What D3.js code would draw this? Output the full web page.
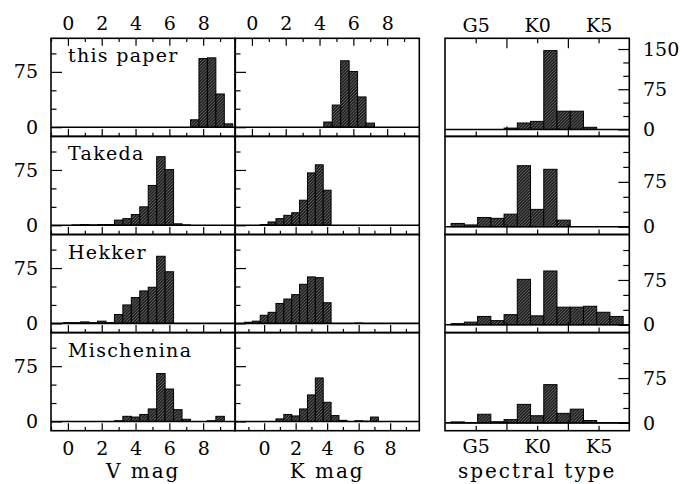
<!DOCTYPE html>
<html>
<head>
<meta charset="utf-8">
<script src="https://cdn.jsdelivr.net/npm/d3@7"></script>
<style>
  body { margin: 0; background: #fff; }
  svg text { font-family: "DejaVu Serif", serif; fill: #000; }
</style>
</head>
<body>
<div id="chart"></div>
<script>
// one row of panels per sample
const surveys = ["this paper", "Takeda", "Hekker", "Mischenina"];

// magnitude bin centres, bins are 0.5 mag wide
const magBins = [-1.5, -1, -0.5, 0, 0.5, 1, 1.5, 2, 2.5, 3, 3.5, 4, 4.5,
                 5, 5.5, 6, 6.5, 7, 7.5, 8, 8.5, 9, 9.5];

// V magnitude counts
const vThisPaper  = [0, 0, 0, 0, 0, 0, 0, 0, 0, 0, 0, 0, 0, 0, 0, 0, 0, 0, 10, 93, 94, 45, 4.5];
const vTakeda     = [0, 0, 0, 0, 0.5, 1, 0.5, 1, 1, 7, 9, 14.5, 25, 54, 93, 75.5, 2, 0.5, 0, 0, 0, 0, 0];
const vHekker     = [0, 0, 0, 1, 1, 2, 1, 3, 1, 12, 25, 35, 44, 49, 91, 70, 0, 0, 0, 0, 0, 0, 0];
const vMischenina = [0, 0, 0, 0, 0, 0, 0, 0, 0, 1, 7, 6, 9.5, 17, 65, 44, 16, 3, 0, 0, 1, 7, 0];

// K magnitude counts
const kThisPaper  = [0, 0, 0, 0, 0, 0, 0, 0, 0, 0, 0, 0, 7, 30, 90, 75.5, 41, 5.5, 0, 0, 0, 0, 0];
const kTakeda     = [0, 0, 0, 1, 4.5, 9, 13.5, 17, 34, 71, 82, 47.5, 0, 0, 0, 0, 0, 0, 0, 0, 0, 0, 0];
const kHekker     = [0, 1.5, 3, 11, 15, 27, 33, 39, 53, 63, 62, 28, 0, 0, 0, 0.5, 0, 0, 0, 0, 0, 0, 0];
const kMischenina = [0, 0, 0, 0, 0, 3.5, 9.5, 7.5, 17, 36, 59, 26, 8, 1.5, 0, 1, 0.5, 6, 0, 0, 0, 0, 0];

// spectral type counts, 13 equal bins between subtype 3 and 17 (G0 = 0, K0 = 10)
const specRange = [3, 17];
const sThisPaper  = [0, 0, 0, 0, 2.5, 12, 15, 147, 34, 34, 4, 0, 0];
const sTakeda     = [5.5, 3, 15.5, 14, 21, 102, 29, 96, 11, 0, 0, 0, 0];
const sHekker     = [2, 4.5, 14, 7, 17, 76, 15, 90, 29.5, 29.5, 31, 21, 14];
const sMischenina = [1.7, 0.5, 14.5, 2, 5.5, 31, 12, 64, 16, 23, 4, 0.5, 0.5];

// tick values and labels
const magLabels = [0, 2, 4, 6, 8];
const magMinor = [-1, 1, 3, 5, 7, 9];
const specLabels = ["G5", "K0", "K5"];
const specLabelPos = [5, 10, 15];
const specMajor = [7.5, 12.5];
const countLabels = [0, 75];
const countLabelsTop = [0, 75, 150];
const countMinor = [25, 50, 100];
const countMinorRight = [25, 50, 100, 125];

// layout
const width = 684, height = 484;
const colX = [51, 235, 445];
const panelW = 184.3;
const rowTop = 38.3, rowH = 98.1;
const font = "DejaVu Serif, serif";

const columns = [
    {series: [vThisPaper, vTakeda, vHekker, vMischenina], title: "V mag", kind: "mag"},
    {series: [kThisPaper, kTakeda, kHekker, kMischenina], title: "K mag", kind: "mag"},
    {series: [sThisPaper, sTakeda, sHekker, sMischenina], title: "spectral type", kind: "spec"}
];

const svg = d3.select("#chart")
              .append("svg")
              .attr("width", width)
              .attr("height", height);

// dense hatch used for the bars
const pattern = svg.append("defs")
                   .append("pattern")
                   .attr("id", "hatch")
                   .attr("patternUnits", "userSpaceOnUse")
                   .attr("width", 2.2)
                   .attr("height", 2.2)
                   .attr("patternTransform", "rotate(45)");
pattern.append("rect")
       .attr("width", 2.2)
       .attr("height", 2.2)
       .attr("fill", "#1c1c1c");
pattern.append("line")
       .attr("x1", 0.4).attr("y1", 0)
       .attr("x2", 0.4).attr("y2", 2.2)
       .attr("stroke", "#6e6e6e")
       .attr("stroke-width", 0.7);

// tidy up an axis group after d3 drew it
function styleAxis(g, size) {
    g.select(".domain").remove();
    g.selectAll("line").attr("stroke", "#000").attr("stroke-width", 1.2);
    g.selectAll("text")
     .attr("font-family", font)
     .attr("font-size", size || 19);
}

function xDomain(col, row) {
    if (columns[col].kind == "spec") return [2.5, 17.5];
    if (col == 1 && row > 0) return [-1.85, 9.85];
    return [-1, 9.9];
}

function yDomain(col, row) {
    if (col < 2) return [-12.5, 120.5];
    if (row == 0) return [-13, 170];
    return [-13, 151];
}

function drawPanel(col, row) {
    const column = columns[col];
    const counts = column.series[row];
    const g = svg.append("g")
                 .attr("transform", "translate(" + colX[col] + "," + (rowTop + row * rowH) + ")");

    const x = d3.scaleLinear().domain(xDomain(col, row)).range([0, panelW]);
    const y = d3.scaleLinear().domain(yDomain(col, row)).range([rowH, 0]);

    // bins for this panel
    var bins;
    if (column.kind == "mag") {
        bins = magBins.map((c, i) => ({lo: c - 0.25, hi: c + 0.25, n: counts[i]}));
    } else {
        const w = (specRange[1] - specRange[0]) / counts.length;
        bins = counts.map((n, i) => ({lo: specRange[0] + i * w, hi: specRange[0] + (i + 1) * w, n: n}));
    }

    const clipId = "clip" + col + row;
    g.append("clipPath")
     .attr("id", clipId)
     .append("rect")
     .attr("width", panelW)
     .attr("height", rowH);

    const plot = g.append("g").attr("clip-path", "url(#" + clipId + ")");

    plot.selectAll(".bar")
        .data(bins.filter(d => d.n > 0))
        .enter()
        .append("rect")
        .attr("class", "bar")
        .attr("x", d => x(d.lo))
        .attr("width", d => x(d.hi) - x(d.lo))
        .attr("y", d => y(d.n))
        .attr("height", d => y(0) - y(d.n))
        .attr("fill", "url(#hatch)")
        .attr("stroke", "#000")
        .attr("stroke-width", 1);

    // zero line
    plot.append("line")
        .attr("x1", 0).attr("x2", panelW)
        .attr("y1", y(0)).attr("y2", y(0))
        .attr("stroke", "#000")
        .attr("stroke-width", 1.6);

    // x ticks on the bottom edge (labels only on the last row), top edge on first row
    var labelVals, labelFmt, otherVals, labelLen, otherLen;
    if (column.kind == "mag") {
        labelVals = magLabels; labelFmt = d => d; otherVals = magMinor;
        labelLen = 7.5; otherLen = 3.7;
    } else {
        labelVals = specLabelPos; labelFmt = d => specLabels[specLabelPos.indexOf(d)];
        otherVals = specMajor;
        labelLen = 5; otherLen = 10;
    }

    const bottom = g.append("g").attr("transform", "translate(0," + rowH + ")");
    bottom.append("g")
          .call(d3.axisBottom(x).tickValues(labelVals).tickSize(-labelLen)
                  .tickPadding(column.kind == "mag" ? 10.8 : 8.8)
                  .tickFormat(row == 3 ? labelFmt : ""))
          .call(styleAxis);
    bottom.append("g")
          .call(d3.axisBottom(x).tickValues(otherVals).tickSize(-otherLen).tickFormat(""))
          .call(styleAxis);

    if (row == 0) {
        g.append("g")
         .call(d3.axisTop(x).tickValues(labelVals).tickSize(-labelLen)
                 .tickPadding(column.kind == "mag" ? 8.8 : 6)
                 .tickFormat(labelFmt))
         .call(styleAxis);
        g.append("g")
         .call(d3.axisTop(x).tickValues(otherVals).tickSize(-otherLen).tickFormat(""))
         .call(styleAxis);
    }

    // y ticks: left edge for the magnitude columns, right edge for spectral type
    if (column.kind == "mag") {
        g.append("g")
         .call(d3.axisLeft(y).tickValues(countLabels).tickSize(-11).tickPadding(13)
                 .tickFormat(col == 0 ? d => d : ""))
         .call(styleAxis);
        g.append("g")
         .call(d3.axisLeft(y).tickValues(countMinor).tickSize(-5.5).tickFormat(""))
         .call(styleAxis);
    } else {
        const right = g.append("g").attr("transform", "translate(" + panelW + ",0)");
        right.append("g")
             .call(d3.axisRight(y).tickValues(row == 0 ? countLabelsTop : countLabels)
                     .tickSize(-11).tickPadding(13.7).tickFormat(d => d))
             .call(styleAxis);
        right.append("g")
             .call(d3.axisRight(y).tickValues(countMinorRight).tickSize(-6).tickFormat(""))
             .call(styleAxis);
    }

    // frame
    g.append("rect")
     .attr("width", panelW)
     .attr("height", rowH)
     .attr("fill", "none")
     .attr("stroke", "#000")
     .attr("stroke-width", 1.6);

    // sample name in the first column
    if (col == 0) {
        g.append("text")
         .attr("x", 17)
         .attr("y", 24)
         .attr("font-size", 19)
         .attr("letter-spacing", 1.3)
         .text(surveys[row]);
    }
}

for (var c = 0; c < columns.length; c++) {
    for (var r = 0; r < surveys.length; r++) {
        drawPanel(c, r);
    }
    // axis title under each column
    svg.append("text")
       .attr("x", colX[c] + panelW / 2)
       .attr("y", 478)
       .attr("text-anchor", "middle")
       .attr("font-size", 20)
       .attr("letter-spacing", 2)
       .text(columns[c].title);
}
</script>
</body>
</html>
